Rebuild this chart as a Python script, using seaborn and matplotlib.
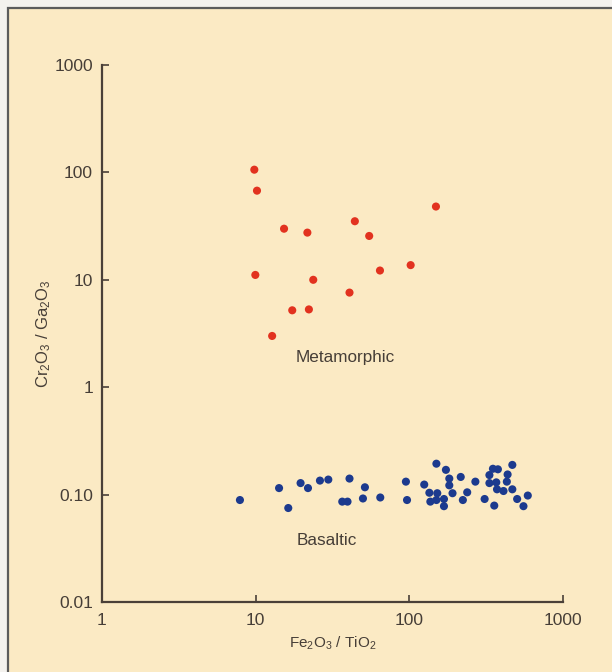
import numpy as np
import pandas as pd
import matplotlib.pyplot as plt
import seaborn as sns
from matplotlib.patches import Rectangle
from matplotlib.ticker import FixedLocator, NullLocator

# Metamorphic samples (Fe2O3/TiO2, Cr2O3/Ga2O3)
meta_x = [9.8, 10.2, 15.3, 21.7, 44.2, 54.8, 149, 9.95, 23.7, 64.4, 102, 40.8, 17.3, 22.2, 12.8]
meta_y = [106, 67.6, 29.9, 27.5, 35.1, 25.6, 48.1, 11.1, 10.0, 12.2, 13.7, 7.6, 5.2, 5.3, 3.0]

# Basaltic samples
basalt_x = [7.9, 14.2, 16.3, 19.6, 21.9, 26.2, 29.7, 40.8, 36.6, 39.6, 51.4, 49.9, 64.7,
            95, 96.6, 125, 135, 137, 150, 152, 150, 168, 168, 173, 182, 182, 191, 216,
            223, 238, 269, 309, 332, 332, 350, 377, 368, 372, 357, 410, 436, 431, 468,
            468, 503, 553, 590]
basalt_y = [0.089, 0.115, 0.075, 0.128, 0.115, 0.135, 0.138, 0.141, 0.086, 0.086, 0.117,
            0.092, 0.094, 0.132, 0.089, 0.124, 0.104, 0.086, 0.194, 0.103, 0.089, 0.091,
            0.078, 0.170, 0.141, 0.122, 0.103, 0.146, 0.089, 0.105, 0.132, 0.091, 0.152,
            0.128, 0.174, 0.172, 0.130, 0.112, 0.079, 0.108, 0.154, 0.132, 0.189, 0.112,
            0.091, 0.078, 0.098]

x_ticks = [1, 10, 100, 1000]
x_tick_labels = ["1", "10", "100", "1000"]
y_ticks = [0.01, 0.1, 1, 10, 100, 1000]
y_tick_labels = ["0.01", "0.10", "1", "10", "100", "1000"]

df = pd.DataFrame({
    "fe_ti": meta_x + basalt_x,
    "cr_ga": meta_y + basalt_y,
    "group": ["Metamorphic"] * len(meta_x) + ["Basaltic"] * len(basalt_x),
})

sns.set_style("white")
plt.rcParams["font.family"] = ["Liberation Sans", "DejaVu Sans"]
plt.rcParams["mathtext.default"] = "regular"

ink = "#4a4038"
text_col = "#463e37"
bg = "#fbeac4"

fig = plt.figure(figsize=(6.12, 6.72), dpi=100, facecolor="#f4f2ee")
fig.patches.append(Rectangle((8 / 612, -0.01), 1.0, 1 - 8 / 672 + 0.01,
                             transform=fig.transFigure, facecolor=bg,
                             edgecolor="#5c5c5c", linewidth=1.6, zorder=-10))

ax = fig.add_axes([102 / 612, 1 - 602 / 672, (563 - 102) / 612, (602 - 65) / 672])
ax.set_facecolor("none")

sns.scatterplot(data=df, x="fe_ti", y="cr_ga", hue="group",
                palette={"Metamorphic": "#e2321f", "Basaltic": "#1c3a8e"},
                s=34, linewidth=0, legend=False, ax=ax, zorder=3)

ax.set_xscale("log")
ax.set_yscale("log")
ax.set_xlim(1, 1000)
ax.set_ylim(0.01, 1000)
ax.xaxis.set_major_locator(FixedLocator(x_ticks))
ax.yaxis.set_major_locator(FixedLocator(y_ticks))
ax.xaxis.set_minor_locator(NullLocator())
ax.yaxis.set_minor_locator(NullLocator())
ax.set_xticklabels(x_tick_labels)
ax.set_yticklabels(y_tick_labels)
ax.tick_params(bottom=True, left=True, direction="in", length=5, width=1.2, color=ink,
               labelsize=12.5, labelcolor=text_col)
ax.tick_params(axis="x", pad=8)
ax.tick_params(axis="y", pad=6.5)

for side in ["top", "right"]:
    ax.spines[side].set_visible(False)
for side in ["left", "bottom"]:
    ax.spines[side].set_color(ink)
    ax.spines[side].set_linewidth(1.6)

ax.set_xlabel("Fe$_2$O$_3$ / TiO$_2$", fontsize=11, color=text_col, labelpad=5)
ax.set_ylabel("Cr$_2$O$_3$ / Ga$_2$O$_3$", fontsize=12, color=text_col, labelpad=1)

ax.text(38, 1.9, "Metamorphic", fontsize=12.3, color=text_col, ha="center", va="center")
ax.text(29, 0.0376, "Basaltic", fontsize=12.3, color=text_col, ha="center", va="center")

fig.savefig("out.png", dpi=100, facecolor=fig.get_facecolor())
plt.close(fig)
